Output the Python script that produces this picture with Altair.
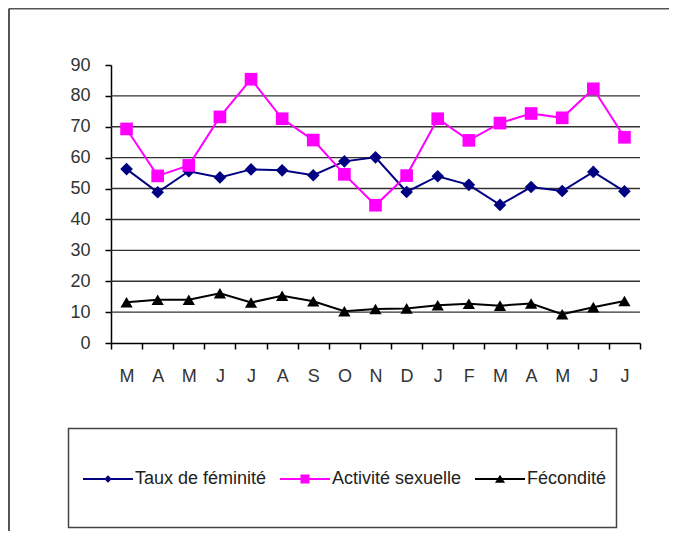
import altair as alt
import pandas as pd

months = ["M", "A", "M", "J", "J", "A", "S", "O", "N", "D", "J", "F", "M", "A", "M", "J", "J"]
series_names = ["Taux de féminité", "Activité sexuelle", "Fécondité"]
feminite = [56.3, 48.8, 55.6, 53.6, 56.2, 55.9, 54.3, 58.8, 60.1, 48.9, 54.0, 51.2, 44.7, 50.5, 49.2, 55.4, 49.1]
activite = [69.3, 54.1, 57.5, 73.2, 85.4, 72.6, 65.7, 54.6, 44.6, 54.2, 72.6, 65.6, 71.2, 74.3, 72.9, 82.3, 66.6]
fecondite = [13.2, 14.0, 14.0, 16.1, 13.1, 15.3, 13.5, 10.3, 11.0, 11.2, 12.2, 12.7, 12.1, 12.8, 9.3, 11.6, 13.6]
y_ticks = [0, 10, 20, 30, 40, 50, 60, 70, 80, 90]
grid_values = [10, 20, 30, 40, 50, 60, 70, 80]

colors = ["#000080", "#FF00FF", "#000000"]
shapes = ["diamond", "square", "triangle-up"]
sizes = [160, 160, 150]
# legend symbols: a line with the marker in its middle (custom SVG paths)
legend_paths = [
    "M-7.8,-0.2H2.2V0.2H-7.8Z M-2.8,-0.75L-2.05,0L-2.8,0.75L-3.55,0Z",
    "M-7.8,-0.2H2.2V0.2H-7.8Z M-3.7,-0.9H-1.9V0.9H-3.7Z",
    "M-7.8,-0.2H2.2V0.2H-7.8Z M-2.8,-0.85L-1.8,0.75H-3.8Z",
]

rows = []
for name, vals in zip(series_names, [feminite, activite, fecondite]):
    for i, v in enumerate(vals):
        rows.append({"idx": i, "serie": name, "value": v})
df = pd.DataFrame(rows)

FONT = "Liberation Sans"
FS = 18
label_expr = "[" + ",".join("'%s'" % m for m in months) + "][datum.value]"

x_enc = alt.X(
    "idx:O",
    scale=alt.Scale(type="band", paddingInner=0, paddingOuter=0),
    axis=alt.Axis(title=None, labelExpr=label_expr, labelAngle=0, tickBand="extent",
                  tickSize=6, labelPadding=18, labelFontSize=FS, labelOverlap=False),
)
y_scale = alt.Scale(domain=[0, 90], nice=False)
y_axis = alt.Axis(title=None, values=y_ticks, grid=False, tickSize=6, labelPadding=15,
                  labelFontSize=FS, labelOverlap=False, labelFlush=False)
y_enc = alt.Y("value:Q", scale=y_scale, axis=y_axis)

grid = alt.Chart(pd.DataFrame({"g": grid_values})).mark_rule(color="#333333", strokeWidth=1.4).encode(
    y=alt.Y("g:Q", scale=y_scale, axis=y_axis)
)

base = alt.Chart(df)
lines = base.mark_line(strokeWidth=2).encode(
    x=x_enc, y=y_enc,
    color=alt.Color("serie:N", scale=alt.Scale(domain=series_names, range=colors), legend=None),
)
point_layers = []
for name, col, shp, sz in zip(series_names, colors, shapes, sizes):
    point_layers.append(
        base.transform_filter(alt.datum.serie == name)
        .mark_point(filled=True, shape=shp, size=sz, color=col, opacity=1)
        .encode(x=x_enc, y=y_enc)
    )

main = alt.layer(grid, lines, *point_layers)

one = alt.Data(values=[{"k": 1}])
frame_top = alt.Chart(one).mark_rule(color="#555555", strokeWidth=2).encode(
    x=alt.value(-102), x2=alt.value(560), y=alt.value(-56.5)
)
frame_left = alt.Chart(one).mark_rule(color="#555555", strokeWidth=2).encode(
    x=alt.value(-102), y=alt.value(-56.5), y2=alt.value(470)
)
legend_box = alt.Chart(one).mark_rect(filled=False, stroke="#444444", strokeWidth=1.5).encode(
    x=alt.value(-42.5), x2=alt.value(505.5), y=alt.value(363.5), y2=alt.value(462.5)
)

leg_legend = alt.Legend(
    title=None, orient="none", direction="horizontal", legendX=2, legendY=405,
    labelFont=FONT, labelFontSize=FS, labelColor="#222222", symbolSize=100,
    symbolStrokeWidth=0, labelOffset=4, columnPadding=13, padding=0,
)
legend_layer = alt.Chart(pd.DataFrame({"serie": series_names})).transform_filter("false").mark_point(
    filled=True, opacity=1
).encode(
    color=alt.Color("serie:N", scale=alt.Scale(domain=series_names, range=colors), legend=leg_legend),
    shape=alt.Shape("serie:N", scale=alt.Scale(domain=series_names, range=legend_paths), legend=leg_legend),
)

chart = alt.layer(main, frame_top, frame_left, legend_box, legend_layer).resolve_scale(
    color="independent", shape="independent"
).properties(
    width=529, height=278,
    padding={"left": 103, "top": 57, "right": 29, "bottom": 188},
    autosize="none",
).configure_view(stroke=None).configure_axis(
    labelFont=FONT, labelColor="#333333", domainColor="#000000", tickColor="#000000",
    domainWidth=1.5, tickWidth=1.5,
)

chart.save("out.html", embed_options={"renderer": "svg", "actions": False})
